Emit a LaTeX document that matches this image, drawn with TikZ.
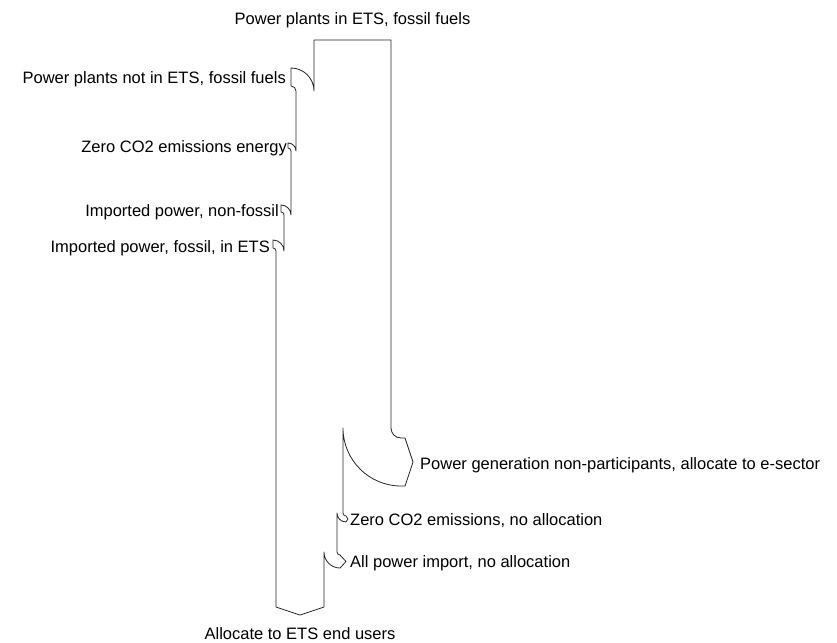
\documentclass[tikz,border=0pt]{standalone}
\usepackage{fontspec}
\setmainfont{Liberation Sans}
\begin{document}
\begin{tikzpicture}[x=1pt, y=-1pt,
    flow/.style={draw=black!85, line width=.8pt, line join=round},
    lbl/.style={inner sep=0pt, font=\fontsize{16.5}{19}\selectfont}]
        \useasboundingbox (0,0) rectangle (837,642);
        \draw [flow] (314,40)--(391,40)--(391,428) arc[start angle=180, end angle=90, radius=10]
            --(405,438)--(413,462)--(405,486)--(401,486) arc[start angle=90, end angle=180, radius=58]
            --(343,513) arc[start angle=180, end angle=90, radius=3]
            --(348,519)--(346,522) arc[start angle=90, end angle=180, radius=9]
            --(337,552) arc[start angle=180, end angle=90, radius=3]
            --(346,561.5)--(340,568) arc[start angle=90, end angle=180, radius=16]
            --(324,607)--(300,615)--(276,607)
            --(276,251) arc[start angle=0, end angle=-90, radius=3]
            --(273,240) arc[start angle=-90, end angle=0, radius=11]
            --(284,215) arc[start angle=0, end angle=-90, radius=3]
            --(281,205) arc[start angle=-90, end angle=0, radius=10]
            --(291,151) arc[start angle=0, end angle=-90, radius=3]
            --(288,143) arc[start angle=-90, end angle=0, radius=8]
            --(296,91) arc[start angle=0, end angle=-90, radius=5]
            --(291,68) arc[start angle=-90, end angle=0, radius=23]--cycle;
        \node (ets) at (352.5,25) [lbl, anchor=base]{Power plants in ETS, fossil fuels};
        \node (nonets) at (286,83) [lbl, anchor=base east]{Power plants not in ETS, fossil fuels};
        \node (zero) at (287,152) [lbl, anchor=base east]{Zero CO2 emissions energy};
        \node (impnf) at (279,216) [lbl, anchor=base east]{Imported power, non-fossil};
        \node (impf) at (270,252) [lbl, anchor=base east]{Imported power, fossil, in ETS};
        \node (gen) at (420,469) [lbl, anchor=base west]{Power generation non-participants, allocate to e-sector};
        \node (zeroout) at (350,525) [lbl, anchor=base west]{Zero CO2 emissions, no allocation};
        \node (impout) at (350,567) [lbl, anchor=base west]{All power import, no allocation};
        \node (users) at (300,639) [lbl, anchor=base]{Allocate to ETS end users};

\end{tikzpicture}
\end{document}
